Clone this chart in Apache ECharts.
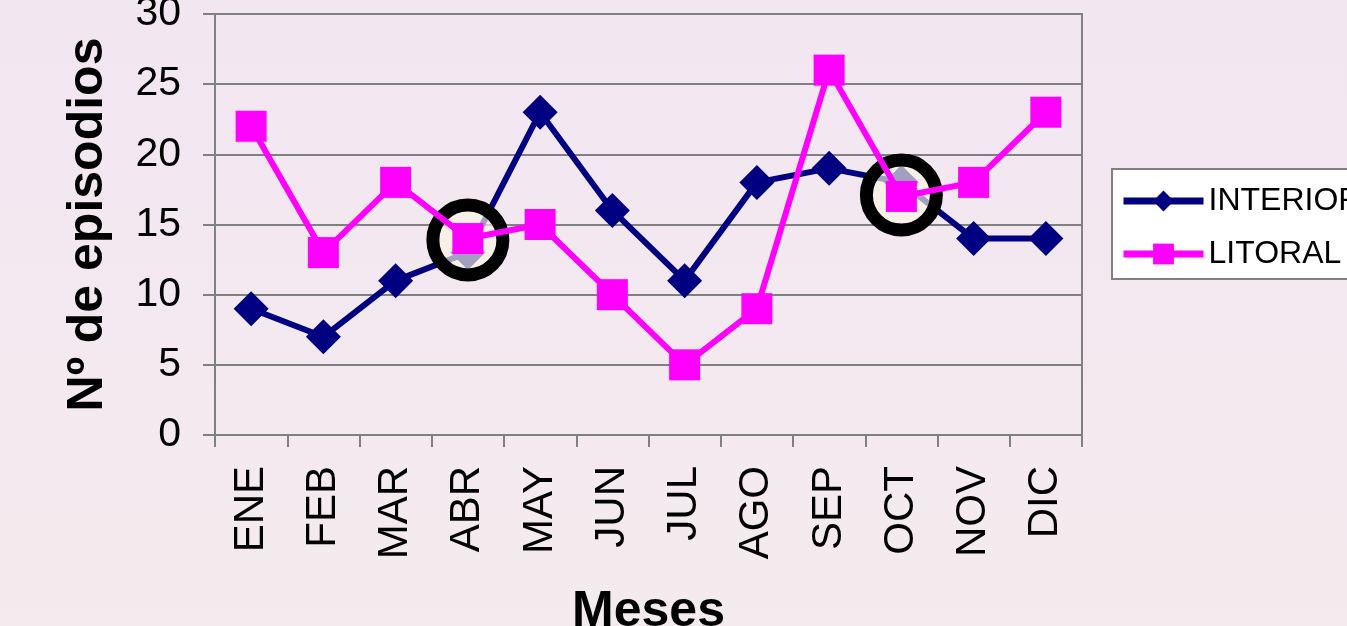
<!DOCTYPE html>
<html lang="es">
<head>
    <meta charset="UTF-8">
    <title>Episodios por mes</title>
    <script src="https://cdn.jsdelivr.net/npm/echarts@6/dist/echarts.min.js"></script>
    <style type="text/css">
        html, body { margin: 0; padding: 0; height: 100%; }
        #chart { width: 1347px; height: 626px; }
    </style>
</head>
<body>
<div id="chart"></div>
<script type="text/javascript">
    // meses
    var meses = ['ENE', 'FEB', 'MAR', 'ABR', 'MAY', 'JUN', 'JUL', 'AGO', 'SEP', 'OCT', 'NOV', 'DIC'];
    // episodios por zona
    var interior = [9, 7, 11, 13, 23, 16, 11, 18, 19, 18, 14, 14];
    var litoral = [22, 13, 18, 14, 15, 10, 5, 9, 26, 17, 18, 23];
    // circulos resaltados
    var resaltados = [['ABR', 13.9], ['OCT', 17.1]];

    var chart = echarts.init(document.getElementById('chart'));
    var option = {
        backgroundColor: {
            type: 'linear', x: 0, y: 0, x2: 0, y2: 1,
            colorStops: [{offset: 0, color: '#f2e6f1'}, {offset: 1, color: '#f4ebee'}]
        },
        animation: false,
        textStyle: { fontFamily: 'Liberation Sans, Arial, sans-serif' },
        grid: {
            left: 215, right: 265, top: 14, bottom: 191,
            outerBoundsMode: 'none',
            containLabel: false,
            show: true, borderColor: '#808080', borderWidth: 2
        },
        legend: {
            orient: 'vertical',
            left: 1112, top: 169,
            data: ['INTERIOR', 'LITORAL'],
            backgroundColor: '#fff',
            borderColor: '#808080',
            borderWidth: 2,
            borderRadius: 0,
            padding: [16, 20, 9, 8],
            itemWidth: 80,
            itemHeight: 26,
            itemGap: 21,
            lineStyle: { width: 7 },
            textStyle: { fontSize: 32, color: '#000' }
        },
        xAxis: {
            type: 'category',
            data: meses,
            boundaryGap: true,
            name: 'Meses',
            nameLocation: 'middle',
            nameGap: 152,
            nameTextStyle: { fontSize: 50, fontWeight: 'bold', color: '#000' },
            axisLine: { lineStyle: { color: '#808080', width: 2 } },
            axisTick: { show: true, length: 12, lineStyle: { color: '#808080', width: 2 } },
            axisLabel: { rotate: 90, fontSize: 42, color: '#000', margin: 31 }
        },
        yAxis: {
            type: 'value',
            min: 0, max: 30, interval: 5,
            name: 'Nº de episodios',
            nameLocation: 'middle',
            nameGap: 102,
            nameTextStyle: { fontSize: 50, fontWeight: 'bold', color: '#000' },
            axisLine: { show: true, lineStyle: { color: '#808080', width: 2 } },
            axisTick: { show: true, length: 12, lineStyle: { color: '#808080', width: 2 } },
            axisLabel: { fontSize: 41, color: '#000', margin: 34 },
            splitLine: { lineStyle: { color: '#808080', width: 2 } }
        },
        series: [
            {
                name: 'INTERIOR',
                type: 'line',
                data: interior,
                z: 2,
                symbol: 'diamond',
                symbolSize: 35,
                color: '#000080',
                lineStyle: { width: 6, color: '#000080' },
                itemStyle: { color: '#000080' }
            },
            {
                name: 'circulos',
                type: 'scatter',
                data: resaltados,
                z: 3,
                symbol: 'circle',
                symbolSize: 70,
                itemStyle: { color: 'rgba(250,244,226,0.65)', borderColor: '#000', borderWidth: 13, opacity: 1 },
                silent: true
            },
            {
                name: 'LITORAL',
                type: 'line',
                data: litoral,
                z: 4,
                symbol: 'rect',
                symbolSize: 31,
                color: '#ff00ff',
                lineStyle: { width: 6, color: '#ff00ff' },
                itemStyle: { color: '#ff00ff' }
            }
        ]
    };
    chart.setOption(option);
</script>
</body>
</html>
